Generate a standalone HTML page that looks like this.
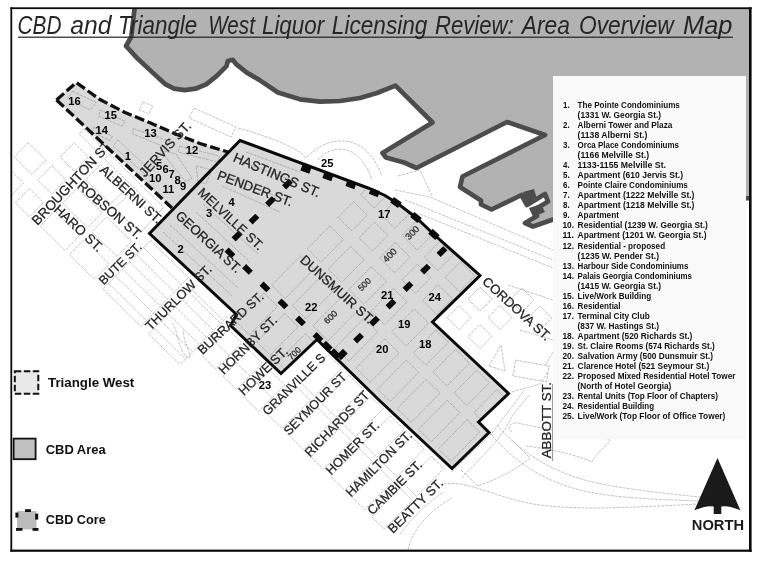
<!DOCTYPE html>
<html lang="en"><head><meta charset="utf-8">
<title>CBD and Triangle West Liquor Licensing Review: Area Overview Map</title>
<style>
html,body{margin:0;padding:0;background:#fff;}
body{width:761px;height:562px;overflow:hidden;}
svg{display:block;will-change:transform;}
text{font-family:"Liberation Sans",Arial,sans-serif;}
.st{font-weight:normal;stroke:#222;stroke-width:0.25;}
.b{font-weight:bold;}
.thin{fill:none;stroke:#9a9a9a;stroke-width:0.6;stroke-dasharray:3 1;}
.thinin{fill:none;stroke:#9c9c9c;stroke-width:0.7;stroke-dasharray:3 1;}
</style></head><body>
<svg width="761" height="562" viewBox="0 0 761 562">
<defs><clipPath id="frame"><rect x="11" y="8" width="739" height="543"/></clipPath>
<clipPath id="cbdclip"><polygon points="240.0,140.5 368.0,188.0 385.0,195.5 397.0,203.0 416.0,217.5 434.0,234.5 480.0,275.5 432.5,322.0 490.0,376.0 508.5,393.5 478.5,422.0 489.0,432.5 452.0,468.5 380.0,401.0 317.0,339.5 281.0,373.5 230.5,325.5 236.5,314.5 149.5,233.5"/></clipPath></defs>
<rect width="761" height="562" fill="#fff"/>
<g clip-path="url(#frame)">
<polygon points="134.6,8.0 131.4,36.3 126.0,46.0 137.8,58.8 152.7,72.6 165.6,84.4 174.1,88.7 184.8,90.2 195.5,88.7 206.2,84.4 216.8,75.9 226.5,66.2 227.8,61.0 232.9,59.8 236.1,64.1 246.8,72.6 259.6,80.1 278.0,92.5 300.0,99.3 320.0,101.6 340.0,101.0 360.0,98.0 377.0,93.0 395.5,85.6 432.5,122.5 382.5,153.0 386.0,157.5 404.0,162.5 416.5,168.0 507.0,122.0 545.0,135.0 462.5,176.5 460.0,187.0 481.0,200.5 481.0,204.5 491.5,209.5 521.5,195.0 527.0,205.0 545.0,194.0 548.0,201.5 534.0,210.0 537.0,216.0 525.0,223.0 533.0,226.5 553.0,219.5 600.0,213.0 760.0,197.0 760.0,8.0" fill="#b2b2b2"/>
<polyline points="134.6,8.0 131.4,36.3 126.0,46.0 137.8,58.8 152.7,72.6 165.6,84.4 174.1,88.7 184.8,90.2 195.5,88.7 206.2,84.4 216.8,75.9 226.5,66.2 227.8,61.0 232.9,59.8 236.1,64.1 246.8,72.6 259.6,80.1 278.0,92.5 300.0,99.3 320.0,101.6 340.0,101.0 360.0,98.0 377.0,93.0 395.5,85.6 432.5,122.5 382.5,153.0 386.0,157.5 404.0,162.5 416.5,168.0 507.0,122.0 545.0,135.0 462.5,176.5 460.0,187.0 481.0,200.5 481.0,204.5 491.5,209.5 521.5,195.0 527.0,205.0 545.0,194.0 548.0,201.5 534.0,210.0 537.0,216.0 525.0,223.0 533.0,226.5 553.0,219.5 600.0,213.0 760.0,197.0" fill="none" stroke="#4c4c4c" stroke-width="4.7" stroke-linejoin="round"/>
<polygon points="523,192 534,189 537,199 527,204" fill="#4c4c4c"/>
<polygon points="529,208 541,204 545,212 533,217" fill="#4c4c4c"/>
<g>
<polygon class="thin" points="74.1,142.9 88.3,156.9 74.3,171.2 60.1,157.2" />

<polygon class="thin" points="51.7,165.7 65.9,179.7 51.9,194.0 37.6,180.0" />
<polygon class="thin" points="28.1,142.6 45.9,160.1 31.9,174.4 14.1,156.9" />
<polygon class="thin" points="29.2,188.5 43.5,202.6 29.5,216.8 15.2,202.8" />
<polygon class="thin" points="5.7,165.4 23.5,182.9 9.5,197.2 -8.3,179.7" />
<polygon class="thin" points="100.4,164.6 125.4,189.1 110.7,204.1 85.7,179.6" />
<polygon class="thin" points="129.7,193.3 154.6,217.9 139.9,232.8 115.0,208.3" />
<polygon class="thin" points="77.3,188.1 102.3,212.7 87.5,227.6 62.6,203.1" />
<polygon class="thin" points="106.5,216.9 131.5,241.4 116.8,256.4 91.8,231.8" />
<polygon class="thin" points="54.9,211.0 79.8,235.5 65.1,250.5 40.2,225.9" />
<polygon class="thin" points="84.1,239.7 109.1,264.2 94.4,279.2 69.4,254.7" />
<polygon class="thin" points="83.9,128.7 103.8,148.3 98.9,153.3 79.0,133.7" />
<polygon class="thin" points="109.5,153.9 163.7,207.2 158.8,212.2 104.6,158.9" />
<line class="thin" x1="150.6" y1="240.5" x2="188.4" y2="277.7" />
<line class="thin" x1="192.0" y1="289.7" x2="223.4" y2="320.5" />
<line class="thin" x1="143.6" y1="247.7" x2="181.4" y2="284.8" />
<line class="thin" x1="189.2" y1="292.5" x2="220.6" y2="323.4" />
<line class="thin" x1="136.6" y1="254.8" x2="174.4" y2="291.9" />
<line class="thin" x1="182.2" y1="299.6" x2="213.6" y2="330.5" />
<line class="thin" x1="129.6" y1="261.9" x2="167.4" y2="299.1" />
<line class="thin" x1="175.2" y1="306.8" x2="206.6" y2="337.6" />
<line class="thin" x1="122.6" y1="269.1" x2="160.4" y2="306.2" />
<line class="thin" x1="168.2" y1="313.9" x2="199.6" y2="344.8" />
<line class="thin" x1="115.6" y1="276.2" x2="153.4" y2="313.3" />
<line class="thin" x1="161.2" y1="321.0" x2="192.6" y2="351.9" />
<line class="thin" x1="108.5" y1="283.3" x2="146.3" y2="320.5" />
<line class="thin" x1="154.2" y1="328.2" x2="185.6" y2="359.0" />
<line class="thin" x1="102.9" y1="289.0" x2="140.7" y2="326.2" />
<line class="thin" x1="148.6" y1="333.9" x2="180.0" y2="364.7" />
<line class="thin" x1="150.6" y1="240.5" x2="102.9" y2="289.0" />
<line class="thin" x1="188.4" y1="277.7" x2="140.7" y2="326.2" />
<line class="thin" x1="196.2" y1="285.4" x2="148.6" y2="333.9" />
<line class="thin" x1="227.6" y1="316.2" x2="180.0" y2="364.7" />
<polygon class="thin" points="228.2,329.4 241.8,342.8 215.9,369.1 202.2,355.8" />
<line class="thin" x1="215.6" y1="342.2" x2="229.2" y2="355.6" />
<polygon class="thin" points="248.9,349.8 262.5,363.1 236.5,389.5 223.0,376.2" />
<line class="thin" x1="236.3" y1="362.6" x2="249.9" y2="375.9" />
<polygon class="thin" points="269.6,370.1 284.7,384.9 258.7,411.3 243.7,396.5" />
<line class="thin" x1="257.0" y1="382.9" x2="272.0" y2="397.7" />
<polygon class="thin" points="328.2,354.8 341.9,368.2 314.5,396.0 300.9,382.6" />
<polygon class="thin" points="296.7,386.9 310.3,400.3 282.3,428.8 268.7,415.4" />
<polygon class="thin" points="349.0,375.2 363.4,389.4 336.1,417.2 321.7,403.0" />
<polygon class="thin" points="317.5,407.3 331.9,421.5 303.8,450.0 289.4,435.8" />
<polygon class="thin" points="370.5,396.4 383.1,408.7 355.7,436.5 343.2,424.2" />
<polygon class="thin" points="339.0,428.5 351.5,440.8 323.5,469.3 311.0,457.0" />
<polygon class="thin" points="390.2,415.7 404.3,429.5 376.9,457.3 362.9,443.5" />
<polygon class="thin" points="358.7,447.8 372.7,461.6 344.7,490.1 330.6,476.3" />
<polygon class="thin" points="411.4,436.5 424.2,449.1 396.8,476.9 384.1,464.3" />
<polygon class="thin" points="379.9,468.6 392.6,481.2 364.6,509.7 351.8,497.2" />
<polygon class="thin" points="431.3,456.1 443.9,468.5 416.6,496.3 404.0,483.9" />
<polygon class="thin" points="399.8,488.2 412.4,500.6 384.3,529.1 371.7,516.7" />
<path class="thin" d="M172,323 C178,330 176,340 183,352 C186,358 190,360 190,356 C188,346 182,338 184,330" stroke-dasharray="2 1"/>
<polygon class="thin" points="194,108 236,127 231,137 189,118"/>
<polygon class="thin" points="143,102 153,106 149,114 139,110"/>
<path class="thin" d="M238,128 C280,140 300,150 306,158 C318,146 332,138 350,142 C366,146 376,160 382,176"/>
<path class="thin" d="M318,160 C326,150 340,146 352,152 C362,158 368,168 372,180"/>
<path class="thin" d="M395,190 L430,197 L553,250"/>
<path class="thin" d="M405,200 L423,207 L553,260"/>
<path class="thin" d="M420,214 L553,268" stroke-dasharray="2 1.5"/>
<path class="thin" d="M398,176 L420,170 L432,196"/>
<rect x="-8.5" y="-8.5" width="17.0" height="17.0" transform="translate(480.0,299.0) rotate(44.5)" class="thin" stroke-dasharray="2 1"/>
<rect x="-8.5" y="-8.5" width="17.0" height="17.0" transform="translate(459.0,317.5) rotate(44.5)" class="thin" stroke-dasharray="2 1"/>
<rect x="-8.5" y="-8.5" width="17.0" height="17.0" transform="translate(500.0,317.5) rotate(44.5)" class="thin" stroke-dasharray="2 1"/>
<rect x="-8.5" y="-8.5" width="17.0" height="17.0" transform="translate(480.0,336.5) rotate(44.5)" class="thin" stroke-dasharray="2 1"/>
<rect x="-8.5" y="-8.5" width="17.0" height="17.0" transform="translate(522.0,300.0) rotate(44.5)" class="thin" stroke-dasharray="2 1"/>
<rect x="-8.5" y="-8.5" width="17.0" height="17.0" transform="translate(540.0,318.0) rotate(44.5)" class="thin" stroke-dasharray="2 1"/>
<polygon class="thin" points="489,366 501,345 505,371"/>
<rect x="-17.0" y="-8.0" width="34.0" height="16.0" transform="translate(531.0,371.0) rotate(10.0)" class="thin" stroke-dasharray="2 1"/>
<path class="thin" stroke-dasharray="2 1" d="M508,285 L553,300 M520,330 L553,340 M512,392 L540,384 L548,372 M553,352 L545,366"/>
<line x1="552.6" y1="384" x2="552.6" y2="461" stroke="#666" stroke-width="0.7"/>
<path class="thin" d="M452,472 C470,452 488,440 496,428 C506,414 516,402 524,390"/>
<path class="thin" d="M462,478 C480,458 500,440 508,424 C514,412 522,404 530,394"/>
<path class="thin" d="M490,433 C510,458 540,480 580,490 C610,497 640,499 700,501"/>
<path class="thin" d="M497,425 C518,450 548,470 588,481 C618,488 650,492 700,497"/>
<path class="thin" d="M512,432 C505,428 512,420 522,424 L552,430 C580,434 600,436 610,440 C606,448 596,452 592,462 C570,452 540,448 526,446"/>
<path class="thin" d="M461,470 L478,486 C500,478 515,470 530,458 L512,440"/>
<path class="thin" d="M444,484 C470,480 500,500 540,505 C580,510 620,508 700,504"/>
<path class="thin" d="M400,534 C410,520 430,500 444,492 M408,550 C412,530 430,510 452,498" stroke-dasharray="2 1"/>
</g>
<text class="st" transform="translate(37.5,226.0) rotate(-46.8)" font-size="13.54" textLength="111.1" lengthAdjust="spacingAndGlyphs" fill="#222">BROUGHTON ST.</text>
<polygon points="76.2,82.5 100.0,99.5 125.0,112.5 150.0,122.8 175.0,133.7 200.0,143.5 228.0,152.0 172.0,208.0 56.5,100.0" fill="#dadada"/>
<polygon points="240.0,140.5 368.0,188.0 385.0,195.5 397.0,203.0 416.0,217.5 434.0,234.5 480.0,275.5 432.5,322.0 490.0,376.0 508.5,393.5 478.5,422.0 489.0,432.5 452.0,468.5 380.0,401.0 317.0,339.5 281.0,373.5 230.5,325.5 236.5,314.5 149.5,233.5" fill="#d9d9d9"/>
<g clip-path="url(#cbdclip)">
<polygon class="thinin" points="300.4,255.9 314.0,269.3 285.2,298.5 271.6,285.2" />
<polygon class="thinin" points="329.8,226.0 343.4,239.3 321.0,262.2 307.4,248.8" />
<polygon class="thinin" points="353.6,201.7 367.3,215.1 351.8,230.8 338.2,217.4" />
<polygon class="thinin" points="376.1,178.9 389.7,192.3 374.3,208.0 360.6,194.6" />
<polygon class="thinin" points="263.9,293.0 277.5,306.4 249.5,334.9 235.9,321.5" />
<polygon class="thinin" points="321.1,276.3 334.7,289.6 305.9,318.9 292.4,305.5" />
<polygon class="thinin" points="350.6,246.3 364.1,259.7 341.7,282.5 328.1,269.2" />
<polygon class="thinin" points="374.4,222.1 387.9,235.4 372.5,251.1 359.0,237.8" />
<polygon class="thinin" points="396.8,199.3 410.4,212.6 394.9,228.3 381.4,215.0" />
<polygon class="thinin" points="284.7,313.4 298.2,326.7 270.2,355.2 256.6,341.9" />
<polygon class="thinin" points="341.8,296.6 356.9,311.4 328.1,340.7 313.1,325.9" />
<polygon class="thinin" points="371.2,266.7 386.3,281.5 363.9,304.3 348.8,289.5" />
<polygon class="thinin" points="395.1,242.4 410.1,257.2 394.7,272.9 379.6,258.1" />
<polygon class="thinin" points="417.5,219.6 432.5,234.4 417.1,250.1 402.1,235.3" />
<polygon class="thinin" points="305.4,333.7 320.4,348.5 292.4,377.0 277.3,362.2" />
<polygon class="thinin" points="364.0,318.4 377.6,331.8 348.9,361.1 335.2,347.7" />
<polygon class="thinin" points="393.4,288.5 407.0,301.9 384.6,324.7 371.0,311.3" />
<polygon class="thinin" points="417.3,264.2 430.9,277.6 415.5,293.3 401.8,279.9" />
<polygon class="thinin" points="439.7,241.4 453.3,254.8 437.9,270.5 424.3,257.1" />
<polygon class="thinin" points="384.7,338.8 399.1,353.0 370.4,382.2 356.0,368.1" />
<polygon class="thinin" points="414.2,308.9 428.6,323.0 406.2,345.9 391.7,331.7" />
<polygon class="thinin" points="438.0,284.6 452.4,298.8 437.0,314.5 422.6,300.3" />
<polygon class="thinin" points="460.4,261.8 474.8,276.0 459.4,291.6 445.0,277.5" />
<polygon class="thinin" points="406.3,360.0 418.8,372.3 390.1,401.6 377.5,389.2" />
<polygon class="thinin" points="435.7,330.0 448.3,342.4 425.8,365.2 413.3,352.9" />
<polygon class="thinin" points="459.5,305.8 472.1,318.1 456.7,333.8 444.1,321.5" />
<polygon class="thinin" points="482.0,283.0 494.5,295.3 479.1,311.0 466.6,298.7" />
<polygon class="thinin" points="426.0,379.3 440.0,393.1 411.3,422.4 397.2,408.6" />
<polygon class="thinin" points="455.4,349.4 469.5,363.2 447.0,386.0 433.0,372.2" />
<polygon class="thinin" points="479.2,325.1 493.3,338.9 477.9,354.6 463.8,340.8" />
<polygon class="thinin" points="501.7,302.3 515.7,316.1 500.3,331.8 486.2,318.0" />
<polygon class="thinin" points="447.1,400.2 459.9,412.7 431.2,441.9 418.4,429.4" />
<polygon class="thinin" points="476.6,370.2 489.4,382.7 466.9,405.6 454.2,393.0" />
<polygon class="thinin" points="500.4,345.9 513.2,358.5 497.8,374.2 485.0,361.6" />
<polygon class="thinin" points="522.8,323.1 535.6,335.7 520.2,351.4 507.4,338.8" />
<polygon class="thinin" points="467.0,419.7 479.7,432.1 450.9,461.4 438.3,449.0" />
<polygon class="thinin" points="496.5,389.8 509.1,402.2 486.7,425.0 474.1,412.6" />
<polygon class="thinin" points="520.3,365.5 532.9,377.9 517.5,393.6 504.9,381.2" />
<polygon class="thinin" points="542.7,342.7 555.4,355.1 540.0,370.8 527.3,358.4" />
<polygon class="thinin" points="486.8,439.1 500.4,452.4 471.6,481.7 458.1,468.4" />
<polygon class="thinin" points="516.2,409.2 529.8,422.5 507.4,445.3 493.8,432.0" />
<polygon class="thinin" points="540.1,384.9 553.6,398.2 538.2,413.9 524.7,400.6" />
<polygon class="thinin" points="562.5,362.1 576.1,375.4 560.6,391.1 547.1,377.8" />
<line class="thinin" x1="163" y1="232" x2="232" y2="296"/>
<line class="thinin" x1="170" y1="225" x2="238" y2="288"/>
<line class="thinin" x1="196" y1="212" x2="250" y2="262"/>
<line class="thinin" x1="203" y1="204" x2="258" y2="254"/>
<line class="thinin" x1="222" y1="186" x2="280" y2="212"/>
<line class="thinin" x1="226" y1="176" x2="286" y2="200"/>
<line class="thinin" x1="246" y1="152" x2="300" y2="172"/>
<line class="thinin" x1="242" y1="162" x2="296" y2="182"/>
</g>
<g class="thinin">
<polygon points="72.5,91.2 96.2,102.5 90.0,110.0 67.5,98.7"/>
<polygon points="100.0,110.0 125.0,121.2 122.4,126.2 98.7,116.2"/>
<polygon points="133.6,128.7 169.8,141.2 166.0,147.4 132.4,133.7"/>
<polygon points="179.8,146.2 219.8,156.1 217.0,162.0 178.0,152.0"/>
<polygon points="93.7,127.4 112.4,136.2 110.0,140.4 92.4,132.0"/>
<polygon points="118.0,140.0 150.0,170.0 146.0,175.0 113.0,146.0"/>
<polygon points="160.0,150.0 176.0,154.0 192.0,178.0 186.0,182.0"/>
<polygon points="196.0,166.0 212.0,170.0 206.0,184.0 198.0,182.0"/>
</g>
<polyline points="56.5,100.0 76.2,82.5 100.0,99.5 125.0,112.5 150.0,122.8 175.0,133.7 200.0,143.5 228.0,152.0" fill="none" stroke="#111" stroke-width="3.3" stroke-dasharray="10 3.5"/>
<polyline points="56.5,100.0 172.0,208.0" fill="none" stroke="#111" stroke-width="3.3" stroke-dasharray="10 3.5"/>
<polygon points="240.0,140.5 368.0,188.0 385.0,195.5 397.0,203.0 416.0,217.5 434.0,234.5 480.0,275.5 432.5,322.0 490.0,376.0 508.5,393.5 478.5,422.0 489.0,432.5 452.0,468.5 380.0,401.0 317.0,339.5 281.0,373.5 230.5,325.5 236.5,314.5 149.5,233.5" fill="none" stroke="#0a0a0a" stroke-width="3" stroke-linejoin="miter"/>
<rect x="-4.8" y="-3.3" width="9.5" height="6.6" transform="translate(306.0,169.0) rotate(20.0)" fill="#0a0a0a"/>
<rect x="-4.8" y="-3.3" width="9.5" height="6.6" transform="translate(328.0,176.5) rotate(20.0)" fill="#0a0a0a"/>
<rect x="-4.8" y="-3.3" width="9.5" height="6.6" transform="translate(351.0,184.5) rotate(20.0)" fill="#0a0a0a"/>
<rect x="-4.8" y="-3.3" width="9.5" height="6.6" transform="translate(374.5,192.5) rotate(22.0)" fill="#0a0a0a"/>
<rect x="-4.8" y="-3.3" width="9.5" height="6.6" transform="translate(396.0,202.5) rotate(35.0)" fill="#0a0a0a"/>
<rect x="-4.8" y="-3.3" width="9.5" height="6.6" transform="translate(416.0,217.5) rotate(40.0)" fill="#0a0a0a"/>
<rect x="-4.8" y="-3.3" width="9.5" height="6.6" transform="translate(434.0,234.5) rotate(42.0)" fill="#0a0a0a"/>
<rect x="-4.8" y="-2.9" width="9.5" height="5.8" transform="translate(287.5,184.0) rotate(-45.0)" fill="#0a0a0a"/>
<rect x="-4.8" y="-2.9" width="9.5" height="5.8" transform="translate(270.5,201.5) rotate(-45.0)" fill="#0a0a0a"/>
<rect x="-4.8" y="-2.9" width="9.5" height="5.8" transform="translate(254.0,219.0) rotate(-45.0)" fill="#0a0a0a"/>
<rect x="-4.8" y="-2.9" width="9.5" height="5.8" transform="translate(237.0,236.0) rotate(-45.0)" fill="#0a0a0a"/>
<rect x="-4.8" y="-2.9" width="9.5" height="5.8" transform="translate(230.0,253.0) rotate(45.0)" fill="#0a0a0a"/>
<rect x="-4.8" y="-2.9" width="9.5" height="5.8" transform="translate(247.5,269.5) rotate(45.0)" fill="#0a0a0a"/>
<rect x="-4.8" y="-2.9" width="9.5" height="5.8" transform="translate(265.0,287.0) rotate(45.0)" fill="#0a0a0a"/>
<rect x="-4.8" y="-2.9" width="9.5" height="5.8" transform="translate(283.0,304.0) rotate(45.0)" fill="#0a0a0a"/>
<rect x="-4.8" y="-2.9" width="9.5" height="5.8" transform="translate(300.5,321.0) rotate(45.0)" fill="#0a0a0a"/>
<rect x="-4.8" y="-2.9" width="9.5" height="5.8" transform="translate(318.0,337.5) rotate(45.0)" fill="#0a0a0a"/>
<rect x="-4.8" y="-3.3" width="9.5" height="6.6" transform="translate(327.0,346.5) rotate(45.0)" fill="#0a0a0a"/>
<rect x="-4.8" y="-3.3" width="9.5" height="6.6" transform="translate(335.0,354.0) rotate(45.0)" fill="#0a0a0a"/>
<rect x="-4.8" y="-3.3" width="9.5" height="6.6" transform="translate(342.0,354.5) rotate(-45.0)" fill="#0a0a0a"/>
<rect x="-4.8" y="-2.9" width="9.5" height="5.8" transform="translate(358.5,338.0) rotate(-45.0)" fill="#0a0a0a"/>
<rect x="-4.8" y="-2.9" width="9.5" height="5.8" transform="translate(374.5,321.0) rotate(-45.0)" fill="#0a0a0a"/>
<rect x="-4.8" y="-2.9" width="9.5" height="5.8" transform="translate(391.0,304.0) rotate(-45.0)" fill="#0a0a0a"/>
<rect x="-4.8" y="-2.9" width="9.5" height="5.8" transform="translate(408.0,286.5) rotate(-45.0)" fill="#0a0a0a"/>
<rect x="-4.8" y="-2.9" width="9.5" height="5.8" transform="translate(425.5,269.0) rotate(-45.0)" fill="#0a0a0a"/>
<rect x="-4.8" y="-2.9" width="9.5" height="5.8" transform="translate(442.0,251.5) rotate(-45.0)" fill="#0a0a0a"/>
<text class="st" transform="translate(232.3,161.0) rotate(23.1)" font-size="13.63" textLength="93.1" lengthAdjust="spacingAndGlyphs" fill="#222">HASTINGS ST.</text>
<text class="st" transform="translate(216.3,179.0) rotate(20.3)" font-size="13.47" textLength="79.3" lengthAdjust="spacingAndGlyphs" fill="#222">PENDER ST.</text>
<text class="st" transform="translate(197.0,193.5) rotate(43.0)" font-size="13.11" textLength="84.3" lengthAdjust="spacingAndGlyphs" fill="#222">MELVILLE ST.</text>
<text class="st" transform="translate(174.7,216.8) rotate(42.7)" font-size="13.26" textLength="84.0" lengthAdjust="spacingAndGlyphs" fill="#222">GEORGIA ST.</text>
<text class="st" transform="translate(299.2,261.0) rotate(42.3)" font-size="13.27" textLength="94.4" lengthAdjust="spacingAndGlyphs" fill="#222">DUNSMUIR ST.</text>
<text class="st" transform="translate(481.5,282.8) rotate(42.3)" font-size="13.12" textLength="87.2" lengthAdjust="spacingAndGlyphs" fill="#222">CORDOVA ST.</text>
<text class="st" transform="translate(99.0,171.0) rotate(42.4)" font-size="13.17" textLength="79.1" lengthAdjust="spacingAndGlyphs" fill="#222">ALBERNI ST.</text>
<text class="st" transform="translate(76.5,187.0) rotate(41.0)" font-size="13.34" textLength="80.8" lengthAdjust="spacingAndGlyphs" fill="#222">ROBSON ST.</text>
<text class="st" transform="translate(53.0,210.5) rotate(43.0)" font-size="13.35" textLength="61.6" lengthAdjust="spacingAndGlyphs" fill="#222">HARO ST.</text>
<text class="st" transform="translate(144.9,177.7) rotate(-47.5)" font-size="13.37" textLength="69.6" lengthAdjust="spacingAndGlyphs" fill="#222">JERVIS ST.</text>
<text class="st" transform="translate(103.7,285.5) rotate(-44.4)" font-size="12.37" textLength="54.3" lengthAdjust="spacingAndGlyphs" fill="#222">BUTE ST.</text>
<text class="st" transform="translate(150.5,331.0) rotate(-44.5)" font-size="12.83" textLength="87.0" lengthAdjust="spacingAndGlyphs" fill="#222">THURLOW ST.</text>
<text class="st" transform="translate(202.5,355.0) rotate(-42.8)" font-size="12.68" textLength="84.6" lengthAdjust="spacingAndGlyphs" fill="#222">BURRARD ST.</text>
<text class="st" transform="translate(223.7,375.0) rotate(-44.8)" font-size="12.80" textLength="76.6" lengthAdjust="spacingAndGlyphs" fill="#222">HORNBY ST.</text>
<text class="st" transform="translate(243.7,396.0) rotate(-44.0)" font-size="12.95" textLength="62.6" lengthAdjust="spacingAndGlyphs" fill="#222">HOWE ST.</text>
<text class="st" transform="translate(331.0,475.5) rotate(-45.0)" font-size="12.73" textLength="69.3" lengthAdjust="spacingAndGlyphs" fill="#222">HOMER ST.</text>
<text class="st" transform="translate(351.0,497.5) rotate(-44.8)" font-size="12.85" textLength="87.3" lengthAdjust="spacingAndGlyphs" fill="#222">HAMILTON ST.</text>
<text class="st" transform="translate(372.5,515.5) rotate(-44.7)" font-size="12.79" textLength="71.1" lengthAdjust="spacingAndGlyphs" fill="#222">CAMBIE ST.</text>
<text class="st" transform="translate(393.0,534.0) rotate(-44.4)" font-size="12.94" textLength="71.4" lengthAdjust="spacingAndGlyphs" fill="#222">BEATTY ST.</text>
<text class="st" transform="translate(551.0,458.3) rotate(-90.0)" font-size="13.37" textLength="76.3" lengthAdjust="spacingAndGlyphs" fill="#222">ABBOTT ST.</text>
<text class="st" transform="translate(267.5,416.0) rotate(-44.3)" font-size="12.51" textLength="82.0" lengthAdjust="spacingAndGlyphs" fill="#222">GRANVILLE S</text>
<text class="st" transform="translate(288.7,436.0) rotate(-44.9)" font-size="12.54" textLength="82.9" lengthAdjust="spacingAndGlyphs" fill="#222">SEYMOUR ST</text>
<text class="st" transform="translate(310.0,457.5) rotate(-45.7)" font-size="12.68" textLength="85.9" lengthAdjust="spacingAndGlyphs" fill="#222">RICHARDS ST</text>
<text class="st" transform="translate(409.0,240.5) rotate(-45.0)" font-size="9.32" textLength="15.6" lengthAdjust="spacingAndGlyphs" fill="#333">300</text>
<text class="st" transform="translate(386.5,263.0) rotate(-45.0)" font-size="9.32" textLength="15.6" lengthAdjust="spacingAndGlyphs" fill="#333">400</text>
<text class="st" transform="translate(361.4,291.6) rotate(-45.0)" font-size="8.65" textLength="14.4" lengthAdjust="spacingAndGlyphs" fill="#333">500</text>
<text class="st" transform="translate(327.5,324.5) rotate(-45.0)" font-size="8.90" textLength="14.8" lengthAdjust="spacingAndGlyphs" fill="#333">600</text>
<text class="st" transform="translate(291.4,360.6) rotate(-45.0)" font-size="8.65" textLength="14.4" lengthAdjust="spacingAndGlyphs" fill="#333">700</text>
<text class="b" x="68.2" y="104.6" font-size="11.2" fill="#000">16</text>
<text class="b" x="104.6" y="118.6" font-size="11.2" fill="#000">15</text>
<text class="b" x="95.6" y="133.6" font-size="11.2" fill="#000">14</text>
<text class="b" x="144.2" y="137.2" font-size="11.2" fill="#000">13</text>
<text class="b" x="185.8" y="154.1" font-size="11.2" fill="#000">12</text>
<text class="b" x="124.8" y="160.2" font-size="11.2" fill="#000">1</text>
<text class="b" x="156" y="169.5" font-size="11.2" fill="#000">5</text>
<text class="b" x="162.5" y="173" font-size="11.2" fill="#000">6</text>
<text class="b" x="168.5" y="178" font-size="11.2" fill="#000">7</text>
<text class="b" x="174.5" y="184" font-size="11.2" fill="#000">8</text>
<text class="b" x="180" y="190" font-size="11.2" fill="#000">9</text>
<text class="b" x="149" y="182" font-size="11.2" fill="#000">10</text>
<text class="b" x="162.5" y="192.5" font-size="11.2" fill="#000">11</text>
<text class="b" x="228.5" y="205.5" font-size="11.2" fill="#000">4</text>
<text class="b" x="206" y="217" font-size="11.2" fill="#000">3</text>
<text class="b" x="177.5" y="252.5" font-size="11.2" fill="#000">2</text>
<text class="b" x="321" y="167" font-size="11.2" fill="#000">25</text>
<text class="b" x="378" y="217.5" font-size="11.2" fill="#000">17</text>
<text class="b" x="381" y="299" font-size="11.2" fill="#000">21</text>
<text class="b" x="428.5" y="300.5" font-size="11.2" fill="#000">24</text>
<text class="b" x="398" y="327.5" font-size="11.2" fill="#000">19</text>
<text class="b" x="419" y="348" font-size="11.2" fill="#000">18</text>
<text class="b" x="376" y="353" font-size="11.2" fill="#000">20</text>
<text class="b" x="305" y="311" font-size="11.2" fill="#000">22</text>
<text class="b" x="258.7" y="389" font-size="11.2" fill="#000">23</text>
</g>
<rect x="553" y="76" width="193" height="363.5" fill="#f9f9f9"/>
<text class="b" x="563.1" y="107.9" font-size="9.4" textLength="6.6" lengthAdjust="spacingAndGlyphs" fill="#111">1.</text>
<text class="b" x="577.6" y="107.9" font-size="9.4" textLength="102.2" lengthAdjust="spacingAndGlyphs" fill="#111">The Pointe Condominiums</text>
<text class="b" x="577.6" y="117.9" font-size="9.4" textLength="83.5" lengthAdjust="spacingAndGlyphs" fill="#111">(1331 W. Georgia St.)</text>
<text class="b" x="563.1" y="128.0" font-size="9.4" textLength="6.6" lengthAdjust="spacingAndGlyphs" fill="#111">2.</text>
<text class="b" x="577.6" y="128.0" font-size="9.4" textLength="94.8" lengthAdjust="spacingAndGlyphs" fill="#111">Alberni Tower and Plaza</text>
<text class="b" x="577.6" y="138.0" font-size="9.4" textLength="69.7" lengthAdjust="spacingAndGlyphs" fill="#111">(1138 Alberni St.)</text>
<text class="b" x="563.1" y="148.1" font-size="9.4" textLength="6.6" lengthAdjust="spacingAndGlyphs" fill="#111">3.</text>
<text class="b" x="577.6" y="148.1" font-size="9.4" textLength="101.4" lengthAdjust="spacingAndGlyphs" fill="#111">Orca Place Condominiums</text>
<text class="b" x="577.6" y="158.1" font-size="9.4" textLength="71.5" lengthAdjust="spacingAndGlyphs" fill="#111">(1166 Melville St.)</text>
<text class="b" x="563.1" y="168.1" font-size="9.4" textLength="6.6" lengthAdjust="spacingAndGlyphs" fill="#111">4.</text>
<text class="b" x="577.6" y="168.1" font-size="9.4" textLength="88.4" lengthAdjust="spacingAndGlyphs" fill="#111">1133-1155 Melville St.</text>
<text class="b" x="563.1" y="178.2" font-size="9.4" textLength="6.6" lengthAdjust="spacingAndGlyphs" fill="#111">5.</text>
<text class="b" x="577.6" y="178.2" font-size="9.4" textLength="105.4" lengthAdjust="spacingAndGlyphs" fill="#111">Apartment (610 Jervis St.)</text>
<text class="b" x="563.1" y="188.2" font-size="9.4" textLength="6.6" lengthAdjust="spacingAndGlyphs" fill="#111">6.</text>
<text class="b" x="577.6" y="188.2" font-size="9.4" textLength="110.2" lengthAdjust="spacingAndGlyphs" fill="#111">Pointe Claire Condominiums</text>
<text class="b" x="563.1" y="198.3" font-size="9.4" textLength="6.6" lengthAdjust="spacingAndGlyphs" fill="#111">7.</text>
<text class="b" x="577.6" y="198.3" font-size="9.4" textLength="116.9" lengthAdjust="spacingAndGlyphs" fill="#111">Apartment (1222 Melville St.)</text>
<text class="b" x="563.1" y="208.3" font-size="9.4" textLength="6.6" lengthAdjust="spacingAndGlyphs" fill="#111">8.</text>
<text class="b" x="577.6" y="208.3" font-size="9.4" textLength="116.9" lengthAdjust="spacingAndGlyphs" fill="#111">Apartment (1218 Melville St.)</text>
<text class="b" x="563.1" y="218.3" font-size="9.4" textLength="6.6" lengthAdjust="spacingAndGlyphs" fill="#111">9.</text>
<text class="b" x="577.6" y="218.3" font-size="9.4" textLength="41.4" lengthAdjust="spacingAndGlyphs" fill="#111">Apartment</text>
<text class="b" x="562.4" y="228.4" font-size="9.4" textLength="11.6" lengthAdjust="spacingAndGlyphs" fill="#111">10.</text>
<text class="b" x="577.6" y="228.4" font-size="9.4" textLength="130.3" lengthAdjust="spacingAndGlyphs" fill="#111">Residential (1239 W. Georgia St.)</text>
<text class="b" x="562.4" y="238.4" font-size="9.4" textLength="11.6" lengthAdjust="spacingAndGlyphs" fill="#111">11.</text>
<text class="b" x="577.6" y="238.4" font-size="9.4" textLength="128.9" lengthAdjust="spacingAndGlyphs" fill="#111">Apartment (1201 W. Georgia St.)</text>
<text class="b" x="562.4" y="248.5" font-size="9.4" textLength="11.6" lengthAdjust="spacingAndGlyphs" fill="#111">12.</text>
<text class="b" x="577.6" y="248.5" font-size="9.4" textLength="87.5" lengthAdjust="spacingAndGlyphs" fill="#111">Residential - proposed</text>
<text class="b" x="577.6" y="258.5" font-size="9.4" textLength="81.4" lengthAdjust="spacingAndGlyphs" fill="#111">(1235 W. Pender St.)</text>
<text class="b" x="562.4" y="268.5" font-size="9.4" textLength="11.6" lengthAdjust="spacingAndGlyphs" fill="#111">13.</text>
<text class="b" x="577.6" y="268.5" font-size="9.4" textLength="110.8" lengthAdjust="spacingAndGlyphs" fill="#111">Harbour Side Condominiums</text>
<text class="b" x="562.4" y="278.6" font-size="9.4" textLength="11.6" lengthAdjust="spacingAndGlyphs" fill="#111">14.</text>
<text class="b" x="577.6" y="278.6" font-size="9.4" textLength="114.3" lengthAdjust="spacingAndGlyphs" fill="#111">Palais Georgia Condominiums</text>
<text class="b" x="577.6" y="288.6" font-size="9.4" textLength="83.5" lengthAdjust="spacingAndGlyphs" fill="#111">(1415 W. Georgia St.)</text>
<text class="b" x="562.4" y="298.7" font-size="9.4" textLength="11.6" lengthAdjust="spacingAndGlyphs" fill="#111">15.</text>
<text class="b" x="577.6" y="298.7" font-size="9.4" textLength="73.7" lengthAdjust="spacingAndGlyphs" fill="#111">Live/Work Building</text>
<text class="b" x="562.4" y="308.7" font-size="9.4" textLength="11.6" lengthAdjust="spacingAndGlyphs" fill="#111">16.</text>
<text class="b" x="577.6" y="308.7" font-size="9.4" textLength="43.0" lengthAdjust="spacingAndGlyphs" fill="#111">Residential</text>
<text class="b" x="562.4" y="318.7" font-size="9.4" textLength="11.6" lengthAdjust="spacingAndGlyphs" fill="#111">17.</text>
<text class="b" x="577.6" y="318.7" font-size="9.4" textLength="72.1" lengthAdjust="spacingAndGlyphs" fill="#111">Terminal City Club</text>
<text class="b" x="577.6" y="328.8" font-size="9.4" textLength="81.4" lengthAdjust="spacingAndGlyphs" fill="#111">(837 W. Hastings St.)</text>
<text class="b" x="562.4" y="338.8" font-size="9.4" textLength="11.6" lengthAdjust="spacingAndGlyphs" fill="#111">18.</text>
<text class="b" x="577.6" y="338.8" font-size="9.4" textLength="114.8" lengthAdjust="spacingAndGlyphs" fill="#111">Apartment (520 Richards St.)</text>
<text class="b" x="562.4" y="348.9" font-size="9.4" textLength="11.6" lengthAdjust="spacingAndGlyphs" fill="#111">19.</text>
<text class="b" x="577.6" y="348.9" font-size="9.4" textLength="137.2" lengthAdjust="spacingAndGlyphs" fill="#111">St. Claire Rooms (574 Richards St.)</text>
<text class="b" x="562.4" y="358.9" font-size="9.4" textLength="11.6" lengthAdjust="spacingAndGlyphs" fill="#111">20.</text>
<text class="b" x="577.6" y="358.9" font-size="9.4" textLength="135.4" lengthAdjust="spacingAndGlyphs" fill="#111">Salvation Army (500 Dunsmuir St.)</text>
<text class="b" x="562.4" y="368.9" font-size="9.4" textLength="11.6" lengthAdjust="spacingAndGlyphs" fill="#111">21.</text>
<text class="b" x="577.6" y="368.9" font-size="9.4" textLength="131.6" lengthAdjust="spacingAndGlyphs" fill="#111">Clarence Hotel (521 Seymour St.)</text>
<text class="b" x="562.4" y="379.0" font-size="9.4" textLength="11.6" lengthAdjust="spacingAndGlyphs" fill="#111">22.</text>
<text class="b" x="577.6" y="379.0" font-size="9.4" textLength="157.8" lengthAdjust="spacingAndGlyphs" fill="#111">Proposed Mixed Residential Hotel Tower</text>
<text class="b" x="577.6" y="389.0" font-size="9.4" textLength="93.7" lengthAdjust="spacingAndGlyphs" fill="#111">(North of Hotel Georgia)</text>
<text class="b" x="562.4" y="399.1" font-size="9.4" textLength="11.6" lengthAdjust="spacingAndGlyphs" fill="#111">23.</text>
<text class="b" x="577.6" y="399.1" font-size="9.4" textLength="140.4" lengthAdjust="spacingAndGlyphs" fill="#111">Rental Units (Top Floor of Chapters)</text>
<text class="b" x="562.4" y="409.1" font-size="9.4" textLength="11.6" lengthAdjust="spacingAndGlyphs" fill="#111">24.</text>
<text class="b" x="577.6" y="409.1" font-size="9.4" textLength="76.4" lengthAdjust="spacingAndGlyphs" fill="#111">Residential Building</text>
<text class="b" x="562.4" y="419.1" font-size="9.4" textLength="11.6" lengthAdjust="spacingAndGlyphs" fill="#111">25.</text>
<text class="b" x="577.6" y="419.1" font-size="9.4" textLength="147.7" lengthAdjust="spacingAndGlyphs" fill="#111">Live/Work (Top Floor of Office Tower)</text>
<rect x="14.8" y="371.3" width="23.5" height="22.5" fill="#e9e9e9" stroke="#111" stroke-width="2" stroke-dasharray="6.5 2.5"/>
<text class="b" x="48" y="386.5" font-size="13.2" textLength="86.3" lengthAdjust="spacingAndGlyphs" fill="#111">Triangle West</text>
<rect x="13.6" y="438.6" width="22" height="20.6" fill="#c0c0c0" stroke="#111" stroke-width="1.8"/>
<text class="b" x="45.7" y="454" font-size="13.2" textLength="60" lengthAdjust="spacingAndGlyphs" fill="#111">CBD Area</text>
<rect x="17" y="511" width="19.5" height="18.4" fill="#bcbcbc"/>
<rect x="25" y="509.2" width="6" height="2.8" fill="#111"/>
<rect x="15.4" y="512.6" width="3" height="5" fill="#111"/>
<rect x="35.2" y="513.6" width="3" height="6" fill="#111"/>
<rect x="16" y="528" width="6.5" height="2.8" fill="#111"/>
<rect x="32.5" y="528" width="6" height="2.8" fill="#111"/>
<text class="b" x="45.8" y="524.3" font-size="13.2" textLength="60" lengthAdjust="spacingAndGlyphs" fill="#111">CBD Core</text>
<path d="M717.5,458 L740.5,510.5 Q729,505 721.3,506.5 L721.3,514 L713.7,514 L713.7,506.5 Q706,505 694.3,510.5 Z" fill="#1a1a1a"/>
<text class="b" x="691.8" y="530.4" font-size="14.7" textLength="52.2" lengthAdjust="spacingAndGlyphs" fill="#1a1a1a">NORTH</text>
<text y="34.3" font-size="25" font-style="italic" fill="#262626"><tspan x="17.5" textLength="43.9" lengthAdjust="spacingAndGlyphs">CBD</tspan> <tspan x="70.2" textLength="41.2" lengthAdjust="spacingAndGlyphs">and</tspan> <tspan x="118.1" textLength="79.2" lengthAdjust="spacingAndGlyphs">Triangle</tspan> <tspan x="208.2" textLength="46.7" lengthAdjust="spacingAndGlyphs">West</tspan> <tspan x="261.9" textLength="62.4" lengthAdjust="spacingAndGlyphs">Liquor</tspan> <tspan x="331.8" textLength="95.6" lengthAdjust="spacingAndGlyphs">Licensing</tspan> <tspan x="434.9" textLength="78.9" lengthAdjust="spacingAndGlyphs">Review:</tspan> <tspan x="521.8" textLength="48.2" lengthAdjust="spacingAndGlyphs">Area</tspan> <tspan x="579.0" textLength="94.8" lengthAdjust="spacingAndGlyphs">Overview</tspan> <tspan x="683.1" textLength="49.4" lengthAdjust="spacingAndGlyphs">Map</tspan></text>
<rect x="18" y="36.6" width="715" height="1.2" fill="#222"/>
<g fill="#0a0a0a"><rect x="10.4" y="7.3" width="741.2" height="1.8"/><rect x="10.4" y="7.3" width="1.8" height="544.5"/><rect x="749" y="7.3" width="2.6" height="544.5"/><rect x="10.4" y="549.6" width="741.2" height="2.2"/></g>
</svg></body></html>
